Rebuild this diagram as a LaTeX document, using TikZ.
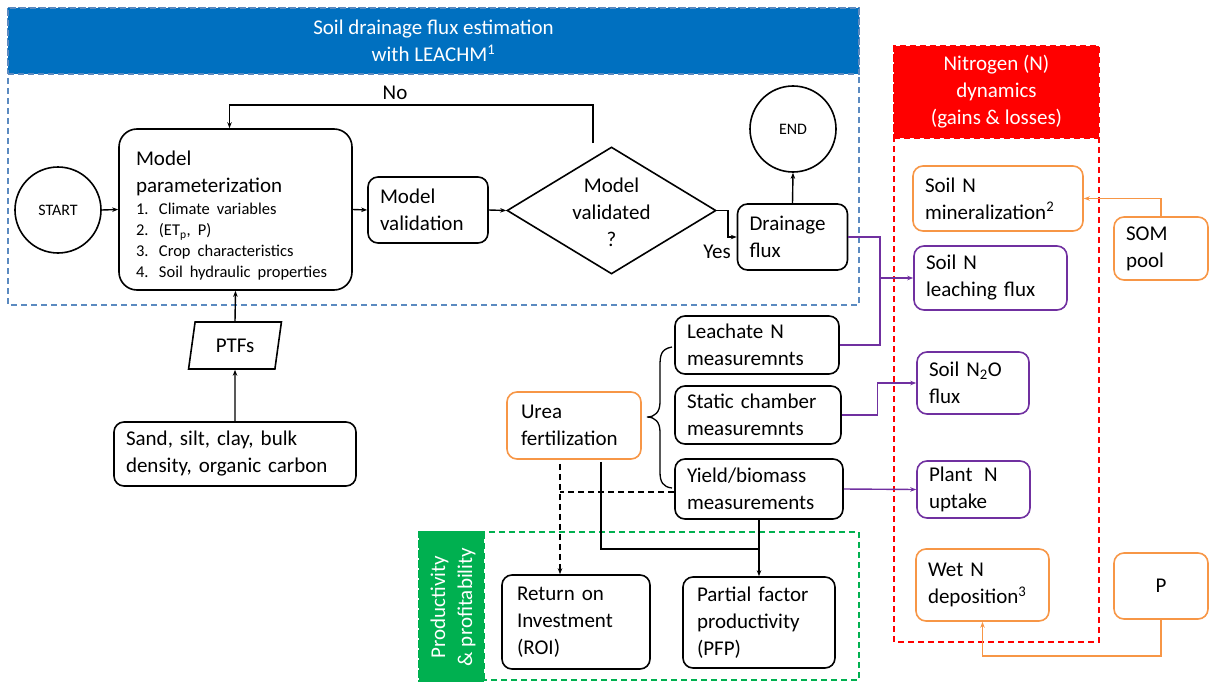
\documentclass[tikz,border=0pt]{standalone}
\usepackage{fontspec}
\setmainfont{Carlito}
\usetikzlibrary{arrows.meta,shapes.geometric,calc}
\definecolor{hblue}{HTML}{0070C0}
\definecolor{fblue}{HTML}{5B8AC0}
\definecolor{ored}{HTML}{FF0000}
\definecolor{org}{HTML}{F79646}
\definecolor{prp}{HTML}{7030A0}
\definecolor{grn}{HTML}{00B050}
\newcommand\fm{\fontsize{21}{27}\selectfont}
\newcommand\fsm{\fontsize{16.5}{21}\selectfont}
\newcommand\fcirc{\fontsize{16}{19}\selectfont}
\begin{document}
\begin{tikzpicture}[x=1pt,y=-1pt,
  bx/.style={draw, rounded corners=10pt, line width=1.6pt, align=left, inner xsep=12pt, inner ysep=0pt, font=\fm},
  obx/.style={bx, draw=org},
  pbx/.style={bx, draw=prp},
  circ/.style={draw, circle, line width=1.6pt, inner sep=0pt, font=\fcirc},
  ar/.style={line width=1.4pt, -{Stealth[length=6pt,width=4.5pt]}},
  par/.style={line width=1.4pt, draw=prp, -{Stealth[length=6pt,width=4.5pt]}},
  oar/.style={line width=1.4pt, draw=org, -{Stealth[length=6pt,width=4.5pt]}},
  dsh/.style={line width=1.5pt, dash pattern=on 6pt off 4pt},
  frame/.style={line width=1.5pt, dash pattern=on 6pt off 4pt}
]
\useasboundingbox (0,0) rectangle (1209,682);

% frames and headers
\draw[frame, draw=fblue] (8,8) rectangle (859,305);
\node[fill=hblue, draw=fblue, frame, minimum width=851pt, minimum height=66pt, inner sep=0pt, text=white, font=\fm, align=center] (bh) at (433.5,41) {Soil drainage flux estimation\\with LEACHM\textsuperscript{1}};
\draw[frame, draw=ored] (894,46) rectangle (1099,642);
\node[fill=ored, draw=ored, frame, minimum width=205pt, minimum height=92pt, inner sep=0pt, text=white, font=\fm, align=center] (rh) at (996.5,92) {Nitrogen (N)\\dynamics\\(gains \& losses)};
\draw[frame, draw=grn] (419,532) rectangle (859,680);
\node[fill=grn, draw=grn, frame, minimum width=65pt, minimum height=152pt, inner sep=0pt] (glab) at (451.5,608) {};
\node[rotate=90, text=white, font=\fm, align=center] (gtext) at (453,607) {Productivity\\\& profitability};

% flowchart
\node[circ, minimum size=86pt] (start) at (58,210) {START};
\node[bx, rounded corners=18pt, inner xsep=17pt, minimum width=233pt, minimum height=161pt, text width=199pt] (param) at (235.5,209.5)
  {\rule{0pt}{31pt}Model\\parameterization\\[3pt]
   {\fsm\begin{tabular}{@{}p{23pt}@{}l@{}}
   1. & Climate variables\\
   2. & (ET\textsubscript{p}, P)\\
   3. & Crop characteristics\\
   4. & Soil hydraulic properties
   \end{tabular}}};
\node[bx, minimum width=120pt, minimum height=66pt, text width=96pt] (val) at (428,210) {Model\\validation};
\node[draw, diamond, line width=1.6pt, minimum width=209pt, minimum height=127pt, inner sep=0pt] (dia) at (611.5,210.5) {};
\node[font=\fm, align=center] (diatext) at (611.5,212) {Model\\validated\\?};
\node[bx, minimum width=109pt, minimum height=66pt, text width=86pt] (drain) at (792.5,237) {Drainage\\flux};
\node[circ, minimum size=86pt] (end) at (793,129) {END};
\node[draw, trapezium, trapezium left angle=77, trapezium right angle=103, trapezium stretches=true, line width=1.6pt, minimum width=93pt, minimum height=47pt, inner sep=0pt, font=\fm] (ptf) at (235,345.5) {PTFs};
\node[bx, minimum width=240pt, minimum height=64pt, text width=218pt] (sand) at (235,454) {Sand, silt, clay, bulk\\density, organic carbon};

\node[font=\fm] (nolbl) at (395,93) {No};
\node[font=\fm] (yeslbl) at (717,252) {Yes};

% nitrogen boxes
\node[obx, minimum width=170pt, minimum height=65pt, text width=146pt] (mineral) at (998,198.5) {Soil N\\mineralization\textsuperscript{2}};
\node[obx, minimum width=94pt, minimum height=63pt, text width=70pt] (som) at (1161,248.5) {SOM\\pool};
\node[pbx, minimum width=153pt, minimum height=64pt, text width=129pt] (leach) at (990.5,278) {Soil N\\leaching flux};
\node[pbx, minimum width=112pt, minimum height=62pt, text width=88pt] (n2o) at (973,383) {Soil N\textsubscript{2}O\\flux};
\node[pbx, minimum width=113pt, minimum height=57pt, text width=89pt] (plant) at (973.5,489.5) {Plant\hspace{0.55em}N\\uptake};
\node[obx, minimum width=133pt, minimum height=72pt, text width=109pt] (wet) at (982.5,585) {Wet N\\deposition\textsuperscript{3}};
\node[obx, minimum width=94pt, minimum height=66pt, align=center] (pbox) at (1161,586) {P};

% measurements
\node[bx, minimum width=164pt, minimum height=58pt, text width=140pt] (leachate) at (757,345) {Leachate N\\measuremnts};
\node[bx, minimum width=166pt, minimum height=58pt, text width=142pt] (static) at (758,415) {Static chamber\\measuremnts};
\node[bx, minimum width=168pt, minimum height=60pt, text width=144pt] (yield) at (759,489) {Yield/biomass\\measurements};
\node[obx, inner xsep=14pt, minimum width=134pt, minimum height=67pt, text width=106pt] (urea) at (574,425.5) {Urea\\fertilization};
\node[bx, inner xsep=15pt, minimum width=148pt, minimum height=94pt, text width=118pt] (roi) at (576,622) {Return on\\Investment\\(ROI)};
\node[bx, inner xsep=14pt, minimum width=152pt, minimum height=91pt, text width=124pt] (pf) at (759,622.5) {Partial factor\\productivity\\(PFP)};

% brace
\draw[line width=1.3pt] (672,347) .. controls (661,349) and (660,355) .. (660,366) -- (660,402)
  .. controls (660,412) and (655,417) .. (647,417)
  .. controls (655,417) and (660,422) .. (660,432) -- (660,472)
  .. controls (660,482) and (663,487) .. (672,488);

% connectors
\draw[ar] (start.east) -- (param.west);
\draw[ar] (param.east) -- (val.west);
\draw[ar] (val.east) -- (dia.west);
\draw[ar] (dia.east) -- ++(11,0) |- (drain.west);
\draw[ar] (drain.north) -- (end.south);
\coordinate (nos) at (593,143);
\draw[ar] (nos) -- (593,105) -| ([xshift=-6pt]param.north);
\draw[ar] (ptf.north) -- (param.south);
\draw[ar] (sand.north) -- (ptf.south);

\coordinate (pj) at (880,278);
\draw[line width=1.4pt, draw=prp] (drain.east) -| (pj);
\draw[line width=1.4pt, draw=prp] (leachate.east) -| (pj);
\draw[par] (pj) -- (leach.west);
\draw[par] (static.east) -| ([xshift=-39pt]n2o.west) -- (n2o.west);
\draw[par] (yield.east) -- (plant.west);
\draw[oar] (som.north) |- (mineral.east);
\draw[oar] (pbox.south) -- ++(0,36) -| (wet.south);

\draw[dsh, -{Stealth[length=6pt,width=4.5pt]}] ([xshift=-14pt,yshift=-4pt]urea.south) -- ([xshift=-16pt]roi.north);
\coordinate (dj) at (560,492);
\draw[dsh] ([yshift=-3pt]yield.west) -- (dj);
\coordinate (sj) at (759,549);
\draw[line width=1.4pt] ([xshift=27pt,yshift=-2pt]urea.south) |- (sj);
\draw[ar] (yield.south) -- (pf.north);
\end{tikzpicture}
\end{document}
